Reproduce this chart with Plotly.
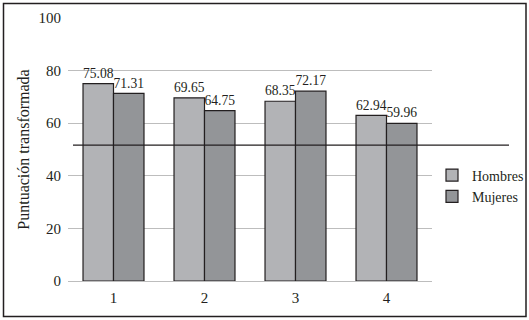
import plotly.graph_objects as go

categories = ["1", "2", "3", "4"]
hombres = [75.08, 69.65, 68.35, 62.94]
mujeres = [71.31, 64.75, 72.17, 59.96]
ref_value = 51.7
y_ticks = [0, 20, 40, 60, 80, 100]

W, H = 529, 320
L, R, T, B = 68, 97, 18, 39
pw, ph = W - L - R, H - T - B

font = "Liberation Serif"
ink = "#231f20"
fig = go.Figure()
fig.add_trace(go.Bar(name="Hombres", x=categories, y=hombres,
                     marker=dict(color="#b2b3b6", line=dict(color=ink, width=1.2)),
                     text=[f"{v:.2f}" for v in hombres], textposition="outside",
                     textfont=dict(size=14, color=ink, family=font), cliponaxis=False))
fig.add_trace(go.Bar(name="Mujeres", x=categories, y=mujeres,
                     marker=dict(color="#939598", line=dict(color=ink, width=1.2)),
                     text=[f"{v:.2f}" for v in mujeres], textposition="outside",
                     textfont=dict(size=14, color=ink, family=font), cliponaxis=False))

# reference line
fig.add_shape(type="line", xref="paper", yref="y", x0=5 / pw, x1=(509 - L) / pw,
              y0=ref_value, y1=ref_value, line=dict(color=ink, width=1.2))
# outer border
fig.add_shape(type="rect", xref="paper", yref="paper",
              x0=(3.5 - L) / pw, x1=(526 - L) / pw,
              y0=(H - B - 316.5) / ph, y1=(H - B - 3.5) / ph,
              line=dict(color=ink, width=1.5), layer="above")

fig.update_layout(
    width=W, height=H, margin=dict(l=L, r=R, t=T, b=B, autoexpand=False),
    paper_bgcolor="white", plot_bgcolor="white",
    barmode="group", bargap=0.33, bargroupgap=0,
    font=dict(family=font, size=13, color=ink),
    showlegend=True,
    legend=dict(x=(432 - L) / pw, y=(H - B - 186) / ph, xanchor="left", yanchor="middle",
                font=dict(size=14, family=font), tracegroupgap=0, itemwidth=30,
                bgcolor="rgba(0,0,0,0)"),
)
fig.update_xaxes(showgrid=False, showline=False, ticks="", tickfont=dict(size=15),
                 ticklabelstandoff=6, automargin=False)
fig.update_yaxes(range=[0, 100], tickvals=y_ticks, showgrid=True, gridcolor="#bdbdbd",
                 gridwidth=1, zeroline=True, zerolinecolor="#bdbdbd", zerolinewidth=1,
                 showline=False, ticks="", ticklabelstandoff=6, tickfont=dict(size=15),
                 automargin=False,
                 title=dict(text="Puntuación transformada", font=dict(size=16), standoff=4))

fig.write_html("out.html", config={"displayModeBar": False},
               post_script="document.body.style.margin='0';document.body.style.padding='0';")
